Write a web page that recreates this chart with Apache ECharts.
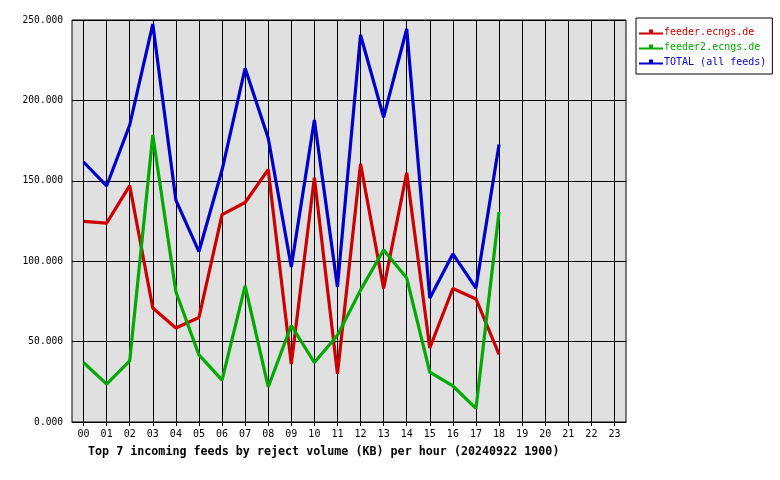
<!DOCTYPE html>
<html>
<head>
<meta charset="utf-8">
<script src="https://cdn.jsdelivr.net/npm/echarts@6/dist/echarts.min.js"></script>
<style>html,body{margin:0;padding:0;background:#fff}#c{width:780px;height:480px}</style>
</head>
<body>
<div id="c"></div>
<script>
var hours = ['00','01','02','03','04','05','06','07','08','09','10','11','12','13','14','15','16','17','18','19','20','21','22','23'];
var seriesNames = ['feeder.ecngs.de', 'feeder2.ecngs.de', 'TOTAL (all feeds)'];
var feederValues = [124.8, 123.7, 147, 70.9, 58.5, 65, 129, 136.5, 157, 36, 152, 30, 160.5, 83, 155, 46, 83, 76.5, 42];
var feeder2Values = [37, 23.6, 38, 178.5, 81, 41.7, 26, 84.6, 21.8, 60, 37, 54, 82, 107, 89.5, 31, 22.4, 8.5, 130.6];
var totalValues = [161.7, 146.8, 184.7, 247.5, 138, 106, 156.7, 220, 176.6, 96.4, 187.8, 84, 240.7, 189.5, 244.4, 77, 104.5, 83.3, 172.5];
var yTicks = [0, 50, 100, 150, 200, 250];
var titleText = 'Top 7 incoming feeds by reject volume (KB) per hour (20240922 1900)';

var colors = ['#cc0000', '#00aa00', '#0000cc'];
var mono = '"DejaVu Sans Mono", "Liberation Mono", monospace';
var iconPath = 'path://M0,3 L10,3 L10,0 L14,0 L14,3 L24,3 L24,5 L0,5 Z';

var chart = echarts.init(document.getElementById('c'), null, {renderer: 'canvas'});
var allData = [feederValues, feeder2Values, totalValues];
chart.setOption({
  animation: false,
  backgroundColor: '#ffffff',
  title: {
    text: titleText,
    left: 88,
    top: 446,
    padding: 0,
    textStyle: {fontFamily: mono, fontSize: 11.7, fontWeight: 'bold', color: '#000'}
  },
  legend: {
    orient: 'vertical',
    left: 636,
    top: 18,
    padding: [9, 6, 7, 3],
    borderColor: '#000',
    borderWidth: 1,
    itemWidth: 24,
    itemHeight: 5,
    itemGap: 5,
    icon: iconPath,
    data: seriesNames.map(function (n, i) {
      return {name: n, icon: iconPath, itemStyle: {color: colors[i]}, textStyle: {color: colors[i], fontFamily: mono, fontSize: 10, padding: [0, 0, 0, -4]}};
    }),
    textStyle: {fontFamily: mono, fontSize: 10}
  },
  grid: {
    left: 72, right: 154, top: 20, bottom: 58,
    show: true,
    backgroundColor: '#e0e0e0',
    borderColor: '#000',
    borderWidth: 1,
    containLabel: false
  },
  xAxis: {
    type: 'category',
    data: hours,
    boundaryGap: true,
    axisLine: {show: true, lineStyle: {color: '#000', width: 1}},
    axisTick: {show: true, alignWithLabel: true, length: 4, lineStyle: {color: '#000'}},
    axisLabel: {fontFamily: mono, fontSize: 10, color: '#000', margin: 7, interval: 0},
    splitLine: {show: true, alignWithLabel: true, interval: 0, lineStyle: {color: '#000', width: 1}}
  },
  yAxis: {
    type: 'value',
    min: yTicks[0],
    max: yTicks[yTicks.length - 1],
    interval: 50,
    axisLine: {show: false},
    axisTick: {show: false},
    axisLabel: {fontFamily: mono, fontSize: 9.6, color: '#000', margin: 9, formatter: function (v) { return v.toFixed(3); }},
    splitLine: {show: true, lineStyle: {color: '#000', width: 1}}
  },
  series: seriesNames.map(function (n, i) {
    return {
      name: n,
      type: 'line',
      data: allData[i],
      showSymbol: false,
      symbol: 'none',
      lineStyle: {color: colors[i], width: 3.2},
      itemStyle: {color: colors[i]},
      z: 3 + i
    };
  })
});
</script>
</body>
</html>
